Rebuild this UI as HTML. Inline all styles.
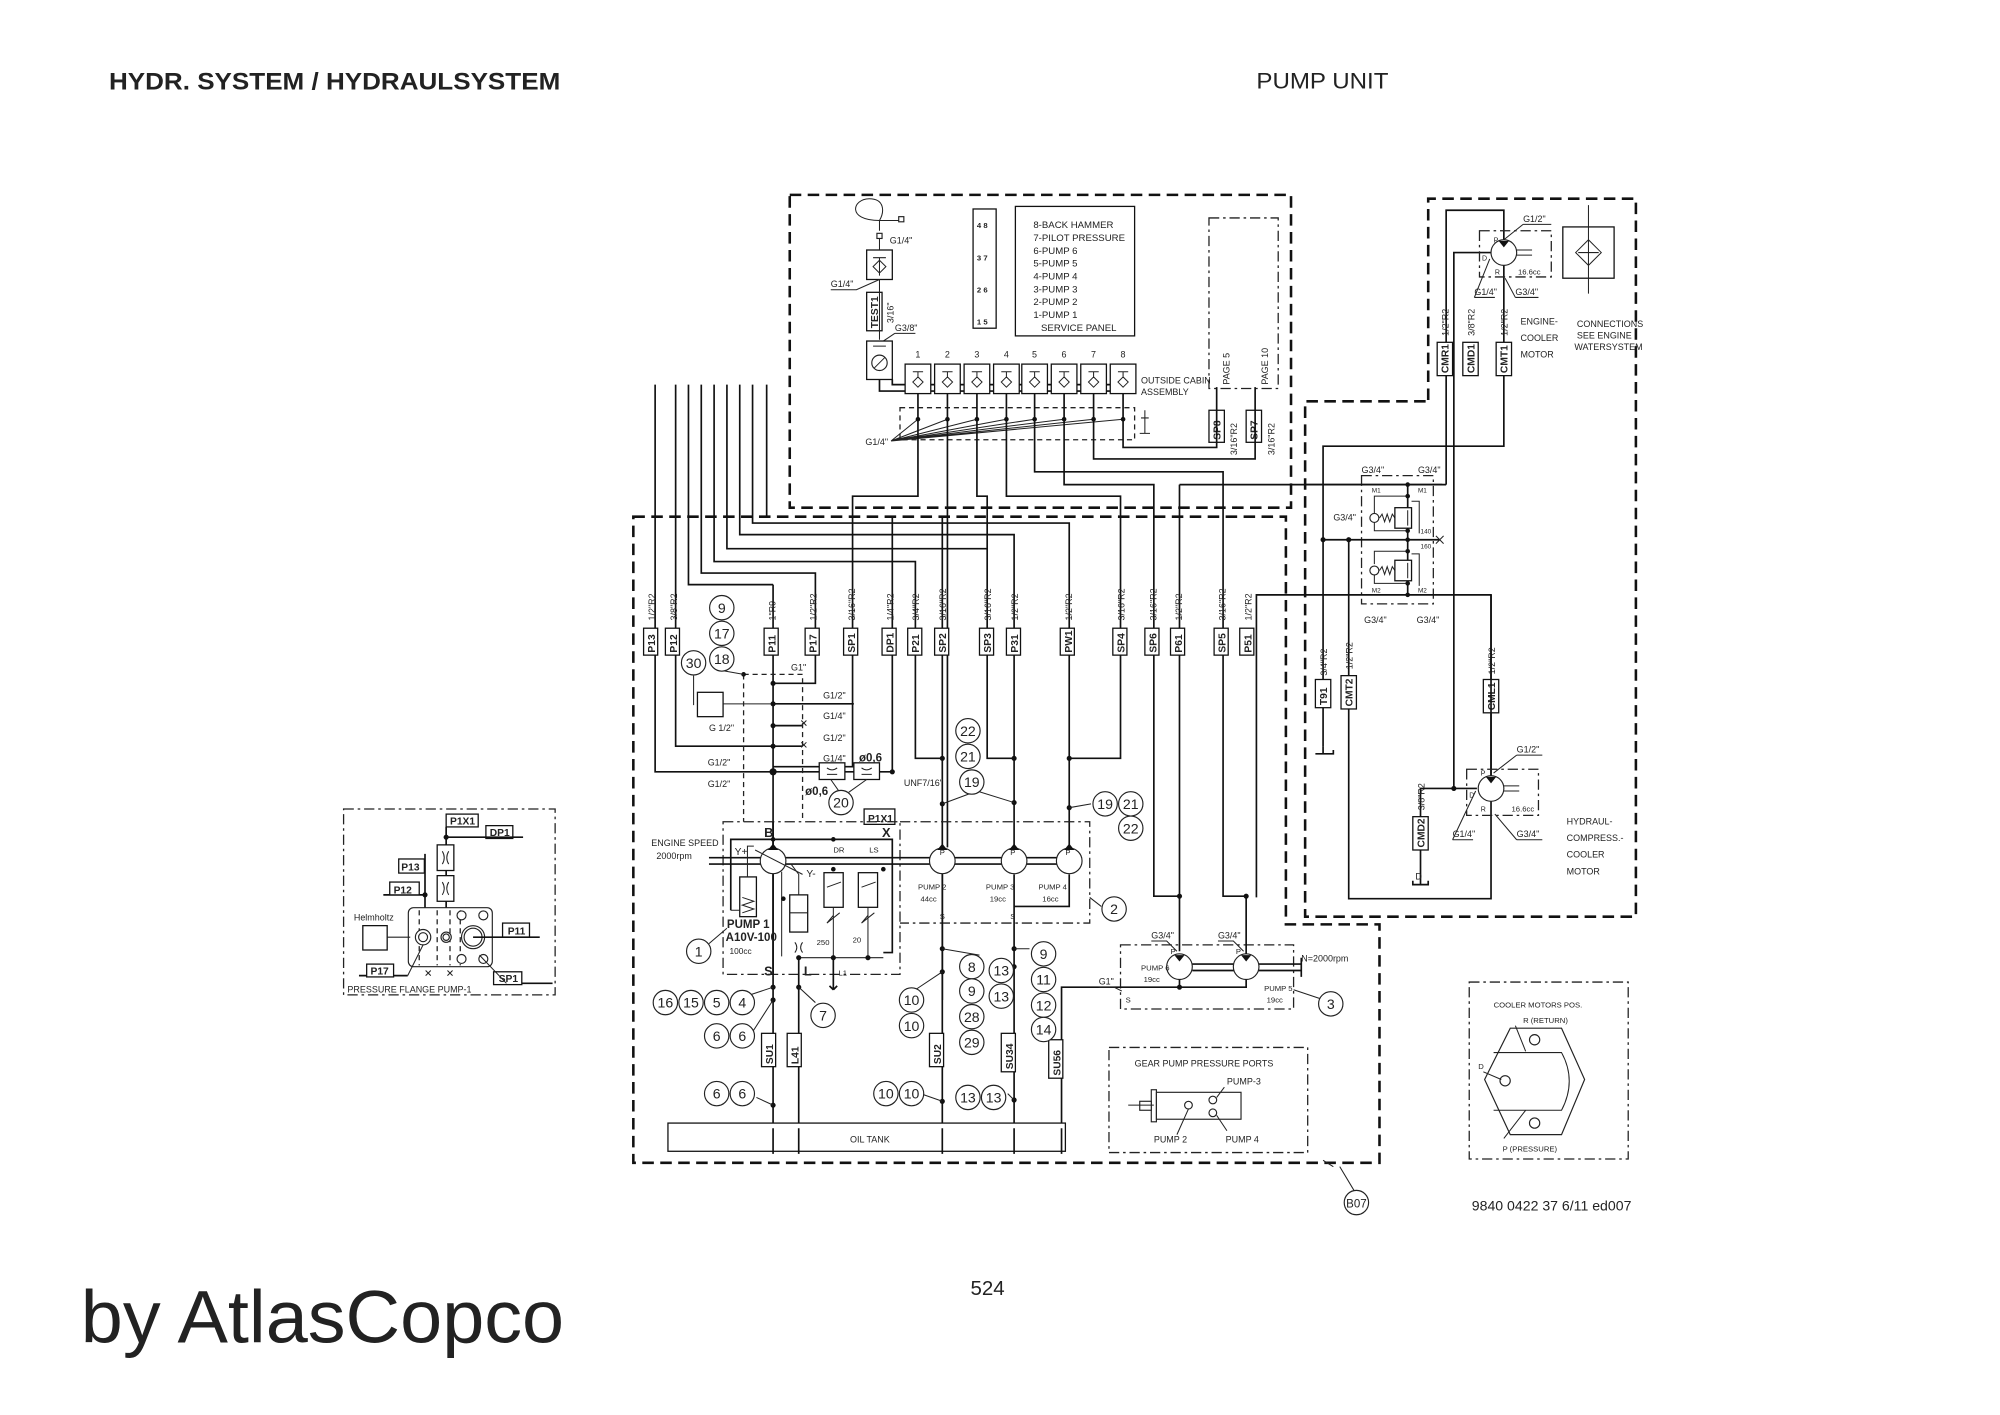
<!DOCTYPE html>
<html><head><meta charset="utf-8"><style>
html,body{margin:0;padding:0;background:#fff;}
svg{display:block;}
text{font-family:"Liberation Sans Narrow","Liberation Sans",sans-serif;fill:#222;}
.s{stroke:#111;stroke-width:1.3;fill:none;}
.t{stroke:#222;stroke-width:0.8;fill:none;}
.d{stroke:#111;stroke-width:2;fill:none;stroke-dasharray:9 5;}
.dd{stroke:#222;stroke-width:1;fill:none;stroke-dasharray:8 3 2 3;}
.dt{stroke:#222;stroke-width:1;fill:none;stroke-dasharray:4 3;}
.b{stroke:#111;stroke-width:1;fill:#fff;}
.c{stroke:#222;stroke-width:0.9;fill:#fff;}
.sm{font-size:7px;}
.lb{font-size:9px;font-weight:bold;}
.cn{font-size:11px;text-anchor:middle;}
</style></head><body>
<svg width="2000" height="1415" viewBox="0 0 1560 1103.7" preserveAspectRatio="none" xmlns="http://www.w3.org/2000/svg">
<rect x="0" y="0" width="1560" height="1104" fill="#fff"/>
<!-- headers -->
<text x="85" y="70" textLength="352" lengthAdjust="spacingAndGlyphs" style="font-size:19px;font-weight:bold;font-family:'Liberation Sans',sans-serif">HYDR. SYSTEM / HYDRAULSYSTEM</text>
<text x="980" y="69" textLength="103" lengthAdjust="spacingAndGlyphs" style="font-size:17px;font-family:'Liberation Sans',sans-serif">PUMP UNIT</text>
<text x="63" y="1047" textLength="377" lengthAdjust="spacingAndGlyphs" style="font-size:58px;font-family:'Liberation Sans',sans-serif">by AtlasCopco</text>
<text x="757" y="1010" style="font-size:16px;font-family:'Liberation Sans',sans-serif">524</text>
<text x="1148" y="944" style="font-size:11px;font-family:'Liberation Sans',sans-serif">9840 0422 37 6/11 ed007</text>

<!-- ================= SERVICE PANEL ================ -->
<rect class="d" x="616" y="152" width="391" height="244"/>
<path class="t" d="M686 172 C 660 172,665 155,678 155 C 690 155,690 165,686 172 L686 180 M686 172 L703 172"/>
<rect class="c" x="701" y="169" width="4" height="4"/>
<rect class="c" x="684" y="182" width="4" height="4"/>
<rect class="b" x="676" y="195" width="20" height="23"/>
<path class="t" d="M686 186 L686 195 M681 201 L691 201 M686 201 L686 215 M686 203 l5 5 -5 5 -5 -5 z"/>
<text class="sm" x="694" y="190">G1/4"</text>
<text class="sm" x="648" y="224">G1/4"</text>
<path class="t" d="M648 226 L668 226 L686 218"/>
<rect class="b" x="676" y="228" width="12" height="30"/>
<text class="lb" transform="rotate(-90 685 256)" x="685" y="256" style="font-size:8px">TEST1</text>
<text class="sm" transform="rotate(-90 697 252)" x="697" y="252">3/16"</text>
<path class="t" d="M686 218 L686 265"/>
<text class="sm" x="698" y="258">G3/8"</text>
<path class="t" d="M698 260 L714 260 M698 260 L686 268"/>
<rect class="b" x="676" y="266" width="20" height="30"/>
<circle class="c" cx="686" cy="283" r="6"/>
<path class="t" d="M682 287 L690 279 M681 270 L691 270"/>
<path class="s" d="M686 296 L686 305 L880 305 M696 296 L696 300 L880 300 L880 305"/>
<rect class="b" x="759" y="163" width="18" height="93"/>
<text style="font-size:6px;font-weight:bold" x="762" y="178">4  8</text>
<text style="font-size:6px;font-weight:bold" x="762" y="203">3  7</text>
<text style="font-size:6px;font-weight:bold" x="762" y="228">2  6</text>
<text style="font-size:6px;font-weight:bold" x="762" y="253">1  5</text>
<rect class="b" x="792" y="161" width="93" height="101"/>
<g class="sm" style="font-size:7.5px">
<text x="806" y="178">8-BACK HAMMER</text>
<text x="806" y="188">7-PILOT PRESSURE</text>
<text x="806" y="198">6-PUMP 6</text>
<text x="806" y="208">5-PUMP 5</text>
<text x="806" y="218">4-PUMP 4</text>
<text x="806" y="228">3-PUMP 3</text>
<text x="806" y="238">2-PUMP 2</text>
<text x="806" y="248">1-PUMP 1</text>
<text x="812" y="258">SERVICE PANEL</text>
</g>
<g>
<rect class="b" x="706" y="284" width="20" height="23"/><rect class="b" x="729" y="284" width="20" height="23"/>
<rect class="b" x="752" y="284" width="20" height="23"/><rect class="b" x="775" y="284" width="20" height="23"/>
<rect class="b" x="797" y="284" width="20" height="23"/><rect class="b" x="820" y="284" width="20" height="23"/>
<rect class="b" x="843" y="284" width="20" height="23"/><rect class="b" x="866" y="284" width="20" height="23"/>
<path class="t" d="M712 290h8M716 290v4M716 294l4 4-4 4-4-4z M735 290h8M739 290v4M739 294l4 4-4 4-4-4z M758 290h8M762 290v4M762 294l4 4-4 4-4-4z M781 290h8M785 290v4M785 294l4 4-4 4-4-4z M803 290h8M807 290v4M807 294l4 4-4 4-4-4z M826 290h8M830 290v4M830 294l4 4-4 4-4-4z M849 290h8M853 290v4M853 294l4 4-4 4-4-4z M872 290h8M876 290v4M876 294l4 4-4 4-4-4z"/>
<g class="sm"><text x="714" y="279">1</text><text x="737" y="279">2</text><text x="760" y="279">3</text><text x="783" y="279">4</text><text x="805" y="279">5</text><text x="828" y="279">6</text><text x="851" y="279">7</text><text x="874" y="279">8</text></g>
</g>
<text class="sm" x="890" y="299">OUTSIDE CABIN</text>
<text class="sm" x="890" y="308">ASSEMBLY</text>
<rect class="dd" x="943" y="170" width="54" height="133"/>
<text class="sm" transform="rotate(-90 959 300)" x="959" y="300">PAGE 5</text>
<text class="sm" transform="rotate(-90 989 300)" x="989" y="300">PAGE 10</text>
<rect class="dt" x="702" y="318" width="183" height="25"/>
<path class="t" d="M893 320v12M890 326h6M893 332v6M889 338h8"/>
<text class="sm" x="675" y="347">G1/4"</text>
<path class="t" d="M695 344L716 327M695 344L739 327M695 344L762 327M695 344L785 327M695 344L807 327M695 344L830 327M695 344L853 327M695 344L876 327"/>
<g fill="#111"><circle cx="716" cy="327" r="1.8"/><circle cx="739" cy="327" r="1.8"/><circle cx="762" cy="327" r="1.8"/><circle cx="785" cy="327" r="1.8"/><circle cx="807" cy="327" r="1.8"/><circle cx="830" cy="327" r="1.8"/><circle cx="853" cy="327" r="1.8"/><circle cx="876" cy="327" r="1.8"/></g>
<rect class="b" x="943" y="320" width="12" height="25"/><text class="lb" transform="rotate(-90 952 343)" x="952" y="343" style="font-size:8px">SP8</text>
<text class="sm" transform="rotate(-90 965 355)" x="965" y="355">3/16"R2</text>
<rect class="b" x="972" y="320" width="12" height="25"/><text class="lb" transform="rotate(-90 981 343)" x="981" y="343" style="font-size:8px">SP7</text>
<text class="sm" transform="rotate(-90 994 355)" x="994" y="355">3/16"R2</text>
<path class="s" d="M716 307V387H665V598H603"/>
<path class="s" d="M739 307V661"/>
<path class="s" d="M762 307V387H770V591.5H791"/>
<path class="s" d="M785 307V387H874V591.5H834"/>
<path class="s" d="M807 307V368H954V699H972"/>
<path class="s" d="M830 307V378H900V699H920"/>
<path class="s" d="M853 307V358H979V302"/>
<path class="s" d="M876 307V349H949V302"/>
<path class="s" d="M920 378H1125 M920 378V742"/>

<!-- ================= RIGHT BOX ================ -->
<path class="d" d="M1114 312V155H1276V715H1018V313H1114"/>
<path class="s" d="M1128 378V164H1173V187"/>
<path class="s" d="M1134 615V197H1163"/>
<path class="s" d="M1173 207V348H1032V582"/>
<path class="s" d="M1032 582v6h-6M1032 588h8v-3"/>
<rect class="dd" x="1154" y="180" width="56" height="36"/>
<circle class="c" cx="1173" cy="197" r="10"/>
<path d="M1169 188h8l-4 5z" fill="#111"/>
<path class="t" d="M1183 195h12M1183 199h12"/>
<text class="sm" x="1188" y="173">G1/2"</text><path class="t" d="M1188 175h22M1188 175l-15 12"/>
<text class="sm" x="1165" y="189" style="font-size:5.5px">P</text>
<text class="sm" x="1156" y="203" style="font-size:5.5px">D</text>
<text class="sm" x="1166" y="214" style="font-size:5.5px">R</text>
<text class="sm" x="1184" y="214" style="font-size:6px">16.6cc</text>
<text class="sm" x="1150" y="230">G1/4"</text><path class="t" d="M1150 232h16M1150 232l12-30"/>
<text class="sm" x="1182" y="230">G3/4"</text><path class="t" d="M1182 232h18M1182 232l-8-15"/>
<rect class="b" x="1219" y="177" width="40" height="40"/>
<path class="t" d="M1239 160V229M1239 187l10 10-10 10-10-10z M1231 197h16"/>
<text class="sm" x="1230" y="255">CONNECTIONS</text>
<text class="sm" x="1230" y="264">SEE ENGINE</text>
<text class="sm" x="1228" y="273">WATERSYSTEM</text>
<text class="sm" x="1186" y="253">ENGINE-</text>
<text class="sm" x="1186" y="266">COOLER</text>
<text class="sm" x="1186" y="279">MOTOR</text>
<rect class="b" x="1121" y="267" width="12" height="26"/><text class="lb" transform="rotate(-90 1130 291)" x="1130" y="291" style="font-size:8px">CMR1</text>
<text class="sm" transform="rotate(-90 1130 262)" x="1130" y="262">1/2"R2</text>
<rect class="b" x="1141" y="267" width="12" height="26"/><text class="lb" transform="rotate(-90 1150 291)" x="1150" y="291" style="font-size:8px">CMD1</text>
<text class="sm" transform="rotate(-90 1150 262)" x="1150" y="262">3/8"R2</text>
<rect class="b" x="1167" y="267" width="12" height="26"/><text class="lb" transform="rotate(-90 1176 291)" x="1176" y="291" style="font-size:8px">CMT1</text>
<text class="sm" transform="rotate(-90 1176 262)" x="1176" y="262">1/2"R2</text>
<rect class="dd" x="1062" y="371" width="56" height="100"/>
<path class="s" d="M1098 378V464M1032 421H1123M1052 421V701H1163V464H980V700"/>
<path class="t" d="M1120 418l6 6M1126 418l-6 6"/>
<path class="t" d="M1098 387H1072V403M1072 407V414H1098 M1098 430H1072V440M1072 448V455H1098"/>
<circle class="c" cx="1072" cy="404" r="3.5"/><circle class="c" cx="1072" cy="445" r="3.5"/>
<path class="t" d="M1076 404l2-3 2 6 2-6 2 6 2-6 2 3"/><path class="t" d="M1076 445l2-3 2 6 2-6 2 6 2-6 2 3"/>
<rect class="b" x="1088" y="396" width="13" height="16"/><rect class="b" x="1088" y="437" width="13" height="16"/>
<path class="t" d="M1098 398v12M1098 439v12 M1101 391h6v25 M1101 432h6v25"/>
<g fill="#111"><circle cx="1098" cy="378" r="1.8"/><circle cx="1098" cy="387" r="1.8"/><circle cx="1098" cy="414" r="1.8"/><circle cx="1098" cy="421" r="1.8"/><circle cx="1098" cy="430" r="1.8"/><circle cx="1098" cy="455" r="1.8"/><circle cx="1098" cy="464" r="1.8"/><circle cx="1032" cy="421" r="2"/><circle cx="1052" cy="421" r="2"/></g>
<path class="s" d="M1018 378H1128"/>
<text class="sm" x="1062" y="369">G3/4"</text><text class="sm" x="1106" y="369">G3/4"</text>
<text class="sm" x="1040" y="406">G3/4"</text>
<text class="sm" x="1064" y="486">G3/4"</text><text class="sm" x="1105" y="486">G3/4"</text>
<text style="font-size:5px" x="1070" y="384">M1</text><text style="font-size:5px" x="1106" y="384">M1</text>
<text style="font-size:5px" x="1070" y="462">M2</text><text style="font-size:5px" x="1106" y="462">M2</text>
<text style="font-size:5px" x="1108" y="416">140</text><text style="font-size:5px" x="1108" y="428">160</text>
<rect class="b" x="1026" y="530" width="12" height="22"/><text class="lb" transform="rotate(-90 1035 550)" x="1035" y="550" style="font-size:8px">T91</text>
<text class="sm" transform="rotate(-90 1035 527)" x="1035" y="527">3/4"R2</text>
<rect class="b" x="1046" y="527" width="12" height="26"/><text class="lb" transform="rotate(-90 1055 551)" x="1055" y="551" style="font-size:8px">CMT2</text>
<text class="sm" transform="rotate(-90 1055 522)" x="1055" y="522">1/2"R2</text>
<rect class="b" x="1157" y="530" width="12" height="26"/><text class="lb" transform="rotate(-90 1166 554)" x="1166" y="554" style="font-size:8px">CML1</text>
<text class="sm" transform="rotate(-90 1166 526)" x="1166" y="526">1/2"R2</text>
<path class="s" d="M1163 605V464 M1108 690V615H1152 M1108 690h-6v-3M1108 690h6v-3"/>
<rect class="dd" x="1144" y="600" width="56" height="36"/>
<circle class="c" cx="1163" cy="615" r="10"/>
<path d="M1159 606h8l-4 5z" fill="#111"/>
<path class="t" d="M1173 613h12M1173 617h12"/>
<circle cx="1134" cy="615" r="2" fill="#111"/>
<text class="sm" x="1183" y="587">G1/2"</text><path class="t" d="M1183 589h20M1183 589l-18 14"/>
<text style="font-size:5.5px" x="1155" y="605">P</text><text style="font-size:5.5px" x="1146" y="622">D</text><text style="font-size:5.5px" x="1155" y="633">R</text>
<text style="font-size:6px" x="1179" y="633">16.6cc</text>
<text class="sm" x="1133" y="653">G1/4"</text><path class="t" d="M1133 655h16M1133 655l18-38"/>
<text class="sm" x="1183" y="653">G3/4"</text><path class="t" d="M1183 655h20M1183 655l-17-20"/>
<rect class="b" x="1102" y="637" width="12" height="26"/><text class="lb" transform="rotate(-90 1111 661)" x="1111" y="661" style="font-size:8px">CMD2</text>
<text class="sm" transform="rotate(-90 1111 632)" x="1111" y="632">3/8"R2</text>
<text class="sm" x="1104" y="686">D</text>
<text class="sm" x="1222" y="643">HYDRAUL-</text>
<text class="sm" x="1222" y="656">COMPRESS.-</text>
<text class="sm" x="1222" y="669">COOLER</text>
<text class="sm" x="1222" y="682">MOTOR</text>

<!-- ================= MAIN BOX ================ -->
<path class="d" d="M494 403H1003V721H1076V907H494Z"/>
<path class="s" d="M511 300V602H696 M527 300V582H626 M537 300V456H603 M547 300V447H636V533H603 M557 300V438H714V591.5H735 M567 300V428H770 M577 300V417H791V661 M587 300V408H834V661 M598 300V403"/>
<path class="s" d="M603 456V760 M696 403V602 M735 403V780"/>
<path class="s" d="M603 566H626 M603 549H666"/>
<g>
<rect class="b" x="502" y="490" width="11" height="21"/><text class="lb" transform="rotate(-90 511 509)" x="511" y="509" style="font-size:8px">P13</text><text class="sm" transform="rotate(-90 511 484)" x="511" y="484">1/2"R2</text>
<rect class="b" x="519" y="490" width="11" height="21"/><text class="lb" transform="rotate(-90 528 509)" x="528" y="509" style="font-size:8px">P12</text><text class="sm" transform="rotate(-90 528 484)" x="528" y="484">3/8"R2</text>
<rect class="b" x="596" y="490" width="11" height="21"/><text class="lb" transform="rotate(-90 605 509)" x="605" y="509" style="font-size:8px">P11</text><text class="sm" transform="rotate(-90 605 484)" x="605" y="484">1"R9</text>
<rect class="b" x="628" y="490" width="11" height="21"/><text class="lb" transform="rotate(-90 637 509)" x="637" y="509" style="font-size:8px">P17</text><text class="sm" transform="rotate(-90 637 484)" x="637" y="484">1/2"R2</text>
<rect class="b" x="658" y="490" width="11" height="21"/><text class="lb" transform="rotate(-90 667 509)" x="667" y="509" style="font-size:8px">SP1</text><text class="sm" transform="rotate(-90 667 484)" x="667" y="484">3/16"R2</text>
<rect class="b" x="688" y="490" width="11" height="21"/><text class="lb" transform="rotate(-90 697 509)" x="697" y="509" style="font-size:8px">DP1</text><text class="sm" transform="rotate(-90 697 484)" x="697" y="484">1/4"R2</text>
<rect class="b" x="708" y="490" width="11" height="21"/><text class="lb" transform="rotate(-90 717 509)" x="717" y="509" style="font-size:8px">P21</text><text class="sm" transform="rotate(-90 717 484)" x="717" y="484">3/4"R2</text>
<rect class="b" x="729" y="490" width="11" height="21"/><text class="lb" transform="rotate(-90 738 509)" x="738" y="509" style="font-size:8px">SP2</text><text class="sm" transform="rotate(-90 738 484)" x="738" y="484">3/16"R2</text>
<rect class="b" x="764" y="490" width="11" height="21"/><text class="lb" transform="rotate(-90 773 509)" x="773" y="509" style="font-size:8px">SP3</text><text class="sm" transform="rotate(-90 773 484)" x="773" y="484">3/16"R2</text>
<rect class="b" x="785" y="490" width="11" height="21"/><text class="lb" transform="rotate(-90 794 509)" x="794" y="509" style="font-size:8px">P31</text><text class="sm" transform="rotate(-90 794 484)" x="794" y="484">1/2"R2</text>
<rect class="b" x="827" y="490" width="11" height="21"/><text class="lb" transform="rotate(-90 836 509)" x="836" y="509" style="font-size:8px">PW1</text><text class="sm" transform="rotate(-90 836 484)" x="836" y="484">1/2"R2</text>
<rect class="b" x="868" y="490" width="11" height="21"/><text class="lb" transform="rotate(-90 877 509)" x="877" y="509" style="font-size:8px">SP4</text><text class="sm" transform="rotate(-90 877 484)" x="877" y="484">3/16"R2</text>
<rect class="b" x="893" y="490" width="11" height="21"/><text class="lb" transform="rotate(-90 902 509)" x="902" y="509" style="font-size:8px">SP6</text><text class="sm" transform="rotate(-90 902 484)" x="902" y="484">3/16"R2</text>
<rect class="b" x="913" y="490" width="11" height="21"/><text class="lb" transform="rotate(-90 922 509)" x="922" y="509" style="font-size:8px">P61</text><text class="sm" transform="rotate(-90 922 484)" x="922" y="484">1/2"R2</text>
<rect class="b" x="947" y="490" width="11" height="21"/><text class="lb" transform="rotate(-90 956 509)" x="956" y="509" style="font-size:8px">SP5</text><text class="sm" transform="rotate(-90 956 484)" x="956" y="484">3/16"R2</text>
<rect class="b" x="967" y="490" width="11" height="21"/><text class="lb" transform="rotate(-90 976 509)" x="976" y="509" style="font-size:8px">P51</text><text class="sm" transform="rotate(-90 976 484)" x="976" y="484">1/2"R2</text>
</g>
<path class="dt" d="M580 526H626V641 M580 526V641"/>
<rect class="b" x="544" y="540" width="20" height="19"/>
<path class="t" d="M564 549H603"/>
<rect class="b" x="639" y="595" width="20" height="13"/><rect class="b" x="666" y="595" width="20" height="13"/>
<path class="t" d="M645 599q4 3 8 0M645 604h8M672 599q4 3 8 0M672 604h8"/>
<g class="sm">
<text x="617" y="523">G1"</text><text x="642" y="545">G1/2"</text><text x="642" y="561">G1/4"</text><text x="642" y="578">G1/2"</text><text x="642" y="594">G1/4"</text>
<text x="553" y="570">G 1/2"</text><text x="552" y="597">G1/2"</text><text x="552" y="614">G1/2"</text>
<text x="705" y="613">UNF7/16"</text>
</g>
<text style="font-size:9px;font-weight:bold" x="670" y="594">ø0,6</text>
<text style="font-size:9px;font-weight:bold" x="628" y="620">ø0,6</text>
<path class="t" d="M625 562l4 4M629 562l-4 4M625 579l4 4M629 579l-4 4"/>
<g fill="#111"><circle cx="603" cy="533" r="2"/><circle cx="603" cy="549" r="2"/><circle cx="603" cy="566" r="2"/><circle cx="603" cy="582" r="2"/><circle cx="603" cy="602" r="2.8"/><circle cx="696" cy="602" r="2"/><circle cx="580" cy="526" r="1.8"/>
<circle cx="735" cy="591.5" r="2"/><circle cx="791" cy="591.5" r="2"/><circle cx="834" cy="591.5" r="2"/><circle cx="735" cy="627" r="2"/><circle cx="791" cy="626" r="2"/><circle cx="834" cy="630" r="2"/>
<circle cx="920" cy="699" r="2"/><circle cx="972" cy="699" r="2"/></g>
<rect class="b" x="674" y="631" width="24" height="12"/><text class="lb" x="677" y="641" style="font-size:8px">P1X1</text>
<rect class="dd" x="564" y="641" width="138" height="119"/>
<path class="dd" d="M702 641H850V720H702"/>
<path class="s" d="M553 669H844 M553 674H844"/>
<circle class="c" cx="603" cy="671.5" r="10"/>
<path class="t" d="M589 663L626 682"/><path d="M599 663h8l-4-5z" fill="#111"/>
<circle class="c" cx="735" cy="671.5" r="10"/><path d="M731 663h8l-4-5z" fill="#111"/>
<circle class="c" cx="791" cy="671.5" r="10"/><path d="M787 663h8l-4-5z" fill="#111"/>
<circle class="c" cx="834" cy="671.5" r="10"/><path d="M830 663h8l-4-5z" fill="#111"/>
<path class="s" d="M603 641V661 M570 710V654.7H696V743H689 M735 682V900 M791 682V900 M834 682V707H791 M603 682V900 M623 747V900"/>
<rect class="b" x="577" y="684" width="13" height="31"/><path class="t" d="M579 700l9 3-9 3 9 3-9 3"/>
<path class="t" d="M570 710h7M583 684V660l5 0"/>
<rect class="b" x="616" y="698" width="14" height="29"/><path class="t" d="M616 712h14M623 698V682l-6-8"/>
<rect class="b" x="642.7" y="680.7" width="15" height="27"/><rect class="b" x="669.5" y="680.7" width="15" height="27"/>
<path class="t" d="M645 692l11-4M672 692l11-4M650 708v6l-5 6 10-8M677 708v6l-5 6 10-8 M650 714V747M677 714V747M623 747H689 M609.7 680V746" />
<path class="t" d="M620 735q3 4 0 8M626 735q-3 4 0 8"/>
<g fill="#111"><circle cx="603" cy="654.7" r="1.8"/><circle cx="650" cy="654.7" r="1.8"/><circle cx="650" cy="678" r="1.8"/><circle cx="689" cy="678" r="1.8"/><circle cx="623" cy="747" r="2"/><circle cx="650" cy="747" r="2"/><circle cx="677" cy="747" r="2"/><circle cx="611" cy="701" r="1.8"/></g>
<g style="font-size:10px;font-weight:bold"><text x="596" y="653">B</text><text x="688" y="653">X</text><text x="596" y="761">S</text><text x="627" y="761">L</text></g>
<text style="font-size:9px;font-weight:bold" x="567" y="724">PUMP 1</text>
<text style="font-size:9px;font-weight:bold" x="566" y="734">A10V-100</text>
<text style="font-size:6.5px" x="569" y="744">100cc</text>
<text style="font-size:8px" x="573" y="667">Y+</text><text style="font-size:8px" x="629" y="684">Y-</text>
<g style="font-size:6px"><text x="650" y="665">DR</text><text x="678" y="665">LS</text><text x="637" y="737">250</text><text x="665" y="735">20</text><text x="654" y="761">L1</text>
<text x="716" y="694">PUMP 2</text><text x="718" y="703">44cc</text><text x="769" y="694">PUMP 3</text><text x="772" y="703">19cc</text><text x="810" y="694">PUMP 4</text><text x="813" y="703">16cc</text>
<text x="733" y="717">S</text><text x="788" y="717">S</text><text x="733" y="667">P</text><text x="788" y="667">P</text><text x="831" y="667">P</text></g>
<path class="s" d="M650 747V772M650 772l-3-3M650 772l3-3"/>
<text style="font-size:7px" x="508" y="660">ENGINE SPEED</text><text style="font-size:7px" x="512" y="670">2000rpm</text>
<rect class="dd" x="874" y="737" width="135" height="50"/>
<path class="s" d="M930 752H1015M930 757H1015M1015 747v15"/>
<circle class="c" cx="920" cy="754" r="10"/><path d="M916 745h8l-4 5z" fill="#111"/>
<circle class="c" cx="972" cy="754" r="10"/><path d="M968 745h8l-4 5z" fill="#111"/>
<path class="s" d="M972 699V744 M920 764V770H972V764 M828 900V770H920"/>
<circle cx="920" cy="770" r="2" fill="#111"/>
<g style="font-size:6px"><text x="890" y="757">PUMP 6</text><text x="892" y="766">19cc</text><text x="986" y="773">PUMP 5</text><text x="988" y="782">19cc</text><text x="913" y="744">P</text><text x="964" y="744">P</text><text x="878" y="782">S</text></g>
<text class="sm" x="1015" y="750">N=2000rpm</text>
<text class="sm" x="898" y="732">G3/4"</text><text class="sm" x="950" y="732">G3/4"</text><text class="sm" x="857" y="768">G1"</text>
<path class="t" d="M898 734h12l8 8M950 734h12l8 8M857 770h12l6 3"/>
<rect class="b" x="594" y="806" width="11" height="26"/><text class="lb" transform="rotate(-90 603 830)" x="603" y="830" style="font-size:8px">SU1</text>
<rect class="b" x="614" y="806" width="11" height="26"/><text class="lb" transform="rotate(-90 623 830)" x="623" y="830" style="font-size:8px">L41</text>
<rect class="b" x="725" y="806" width="11" height="26"/><text class="lb" transform="rotate(-90 734 830)" x="734" y="830" style="font-size:8px">SU2</text>
<rect class="b" x="781" y="806" width="11" height="30"/><text class="lb" transform="rotate(-90 790 834)" x="790" y="834" style="font-size:8px">SU34</text>
<rect class="b" x="818" y="811" width="11" height="30"/><text class="lb" transform="rotate(-90 827 839)" x="827" y="839" style="font-size:8px">SU56</text>
<rect class="b" x="521" y="876" width="310" height="22"/>
<text style="font-size:7px" x="663" y="891">OIL TANK</text>
<path class="s" d="M603 880V898M623 880V898M735 880V898M791 880V898M828 880V898"/>
<g fill="#111"><circle cx="603" cy="770" r="2"/><circle cx="603" cy="780" r="2"/><circle cx="623" cy="770" r="2"/><circle cx="735" cy="740" r="2"/><circle cx="735" cy="758" r="2"/><circle cx="791" cy="740" r="2"/><circle cx="791" cy="754" r="2"/><circle cx="603" cy="862" r="2"/><circle cx="735" cy="859" r="2"/><circle cx="791" cy="858" r="2"/></g>
<path class="t" d="M563 523L580 526M541 527V550M762 617L735 627M762 617L791 626M851 627L834 630M655 618L648 608M662 618L676 608M553 736L567 724M859 707L850 700M1030 779L1009 772M585 776L603 770M585 808L603 780M636 782L623 770M764 745L735 740M714 772L735 758M803 740L791 740M783 756L791 754M590 856L603 862M718 853L735 859M786 853L791 858M1040 910L1032 905 M1057 930L1045 910"/>
<g>
<circle class="c" cx="563" cy="474" r="9.5"/><text class="cn" x="563" y="478">9</text>
<circle class="c" cx="563" cy="494" r="9.5"/><text class="cn" x="563" y="498">17</text>
<circle class="c" cx="563" cy="514" r="9.5"/><text class="cn" x="563" y="518">18</text>
<circle class="c" cx="541" cy="517" r="9.5"/><text class="cn" x="541" y="521">30</text>
<circle class="c" cx="656" cy="626" r="9.5"/><text class="cn" x="656" y="630">20</text>
<circle class="c" cx="755" cy="570" r="9.5"/><text class="cn" x="755" y="574">22</text>
<circle class="c" cx="755" cy="590" r="9.5"/><text class="cn" x="755" y="594">21</text>
<circle class="c" cx="758" cy="610" r="9.5"/><text class="cn" x="758" y="614">19</text>
<circle class="c" cx="862" cy="627" r="9.5"/><text class="cn" x="862" y="631">19</text>
<circle class="c" cx="882" cy="627" r="9.5"/><text class="cn" x="882" y="631">21</text>
<circle class="c" cx="882" cy="646" r="9.5"/><text class="cn" x="882" y="650">22</text>
<circle class="c" cx="869" cy="709" r="9.5"/><text class="cn" x="869" y="713">2</text>
<circle class="c" cx="545" cy="742" r="9.5"/><text class="cn" x="545" y="746">1</text>
<circle class="c" cx="519" cy="782" r="9.5"/><text class="cn" x="519" y="786">16</text>
<circle class="c" cx="539" cy="782" r="9.5"/><text class="cn" x="539" y="786">15</text>
<circle class="c" cx="559" cy="782" r="9.5"/><text class="cn" x="559" y="786">5</text>
<circle class="c" cx="579" cy="782" r="9.5"/><text class="cn" x="579" y="786">4</text>
<circle class="c" cx="559" cy="808" r="9.5"/><text class="cn" x="559" y="812">6</text>
<circle class="c" cx="579" cy="808" r="9.5"/><text class="cn" x="579" y="812">6</text>
<circle class="c" cx="642" cy="792" r="9.5"/><text class="cn" x="642" y="796">7</text>
<circle class="c" cx="758" cy="754" r="9.5"/><text class="cn" x="758" y="758">8</text>
<circle class="c" cx="758" cy="773" r="9.5"/><text class="cn" x="758" y="777">9</text>
<circle class="c" cx="758" cy="793" r="9.5"/><text class="cn" x="758" y="797">28</text>
<circle class="c" cx="758" cy="813" r="9.5"/><text class="cn" x="758" y="817">29</text>
<circle class="c" cx="781" cy="757" r="9.5"/><text class="cn" x="781" y="761">13</text>
<circle class="c" cx="781" cy="777" r="9.5"/><text class="cn" x="781" y="781">13</text>
<circle class="c" cx="711" cy="780" r="9.5"/><text class="cn" x="711" y="784">10</text>
<circle class="c" cx="711" cy="800" r="9.5"/><text class="cn" x="711" y="804">10</text>
<circle class="c" cx="814" cy="744" r="9.5"/><text class="cn" x="814" y="748">9</text>
<circle class="c" cx="814" cy="764" r="9.5"/><text class="cn" x="814" y="768">11</text>
<circle class="c" cx="814" cy="784" r="9.5"/><text class="cn" x="814" y="788">12</text>
<circle class="c" cx="814" cy="803" r="9.5"/><text class="cn" x="814" y="807">14</text>
<circle class="c" cx="559" cy="853" r="9.5"/><text class="cn" x="559" y="857">6</text>
<circle class="c" cx="579" cy="853" r="9.5"/><text class="cn" x="579" y="857">6</text>
<circle class="c" cx="691" cy="853" r="9.5"/><text class="cn" x="691" y="857">10</text>
<circle class="c" cx="711" cy="853" r="9.5"/><text class="cn" x="711" y="857">10</text>
<circle class="c" cx="755" cy="856" r="9.5"/><text class="cn" x="755" y="860">13</text>
<circle class="c" cx="775" cy="856" r="9.5"/><text class="cn" x="775" y="860">13</text>
<circle class="c" cx="1038" cy="783" r="9.5"/><text class="cn" x="1038" y="787">3</text>
<circle class="c" cx="1058" cy="938" r="9.5"/><text class="cn" x="1058" y="942" style="font-size:9px">B07</text>
</g>
<rect class="dd" x="865" y="817" width="155" height="82"/>
<text style="font-size:7px" x="885" y="832">GEAR PUMP PRESSURE PORTS</text>
<text style="font-size:7px" x="957" y="846">PUMP-3</text>
<text style="font-size:7px" x="900" y="891">PUMP 2</text>
<text style="font-size:7px" x="956" y="891">PUMP 4</text>
<rect class="c" x="898" y="850" width="4" height="25"/>
<rect class="c" x="902" y="852" width="66" height="21"/>
<rect class="c" x="889" y="859" width="9" height="7"/>
<circle class="c" cx="927" cy="862" r="3"/><circle class="c" cx="946" cy="858" r="3"/><circle class="c" cx="946" cy="868" r="3"/>
<path class="t" d="M880 862h20M927 865l-9 20M949 856l6-8M949 870l8 12"/>
<rect class="dd" x="1146" y="766" width="124" height="138"/>
<text style="font-size:6px" x="1165" y="786">COOLER MOTORS POS.</text>
<text style="font-size:6px" x="1188" y="798">R (RETURN)</text>
<text style="font-size:6px" x="1172" y="898">P (PRESSURE)</text>
<text style="font-size:6px" x="1153" y="834">D</text>
<path class="c" d="M1178 802H1218L1236 842L1218 885H1178L1158 842Z" style="fill:none"/>
<path class="t" d="M1165 821H1218Q1230 843 1218 866H1165"/>
<circle class="c" cx="1197" cy="811" r="4"/><circle class="c" cx="1197" cy="876" r="4"/><circle class="c" cx="1174" cy="843" r="4"/>
<path class="t" d="M1182 800L1190 820M1157 836L1171 842M1173 888L1190 866"/>
<rect class="dd" x="268" y="631" width="165" height="145"/>
<rect class="b" x="348" y="635" width="25" height="10"/><text class="lb" x="351" y="643" style="font-size:8px">P1X1</text>
<rect class="b" x="379" y="644" width="21" height="10"/><text class="lb" x="382" y="652" style="font-size:8px">DP1</text>
<path class="s" d="M348 645V708M348 653H408M331.5 666V708M299 698H331.5"/>
<circle cx="348" cy="653" r="2" fill="#111"/><circle cx="331.5" cy="698" r="2" fill="#111"/>
<rect class="b" x="341" y="659" width="13" height="20"/><rect class="b" x="341" y="683" width="13" height="20"/>
<path class="t" d="M345 664q3 5 0 10M350 664q-3 5 0 10M345 688q3 5 0 10M350 688q-3 5 0 10"/>
<rect class="b" x="311" y="670" width="20" height="11"/><text class="lb" x="313" y="679" style="font-size:8px">P13</text>
<rect class="b" x="304" y="688" width="23" height="10"/><text class="lb" x="307" y="697" style="font-size:8px">P12</text>
<rect class="c" x="318.5" y="708" width="65.5" height="46" rx="4"/>
<path class="dt" d="M327 710V753M341 710V753M351 710V753M359 710V753"/>
<rect class="b" x="283" y="722" width="19" height="19"/>
<text style="font-size:7px" x="276" y="718">Helmholtz</text>
<path class="t" d="M302 731H320"/>
<circle class="c" cx="330" cy="731" r="6"/><circle class="c" cx="330" cy="731" r="3.5"/>
<circle class="c" cx="348" cy="731" r="4"/><circle class="c" cx="348" cy="731" r="2.5"/>
<circle class="c" cx="369" cy="731" r="9"/><circle class="c" cx="369" cy="731" r="7"/>
<circle class="c" cx="360" cy="714" r="3.5"/><circle class="c" cx="377" cy="714" r="3.5"/><circle class="c" cx="360" cy="748" r="3.5"/><circle class="c" cx="377" cy="748" r="3.5"/>
<rect class="b" x="392" y="720" width="21" height="11"/><text class="lb" x="396" y="729" style="font-size:8px">P11</text>
<path class="s" d="M369 731H421M280 761H318M395 767H431"/>
<rect class="b" x="286" y="752" width="21" height="10"/><text class="lb" x="289" y="760" style="font-size:8px">P17</text>
<rect class="b" x="385" y="758" width="22" height="10"/><text class="lb" x="389" y="766" style="font-size:8px">SP1</text>
<path class="t" d="M318 761L330 737M395 767L374 745M332 757l4 4M336 757l-4 4M349 757l4 4M353 757l-4 4"/>
<text style="font-size:7px" x="271" y="774">PRESSURE FLANGE PUMP-1</text>
</svg>
</body></html>
